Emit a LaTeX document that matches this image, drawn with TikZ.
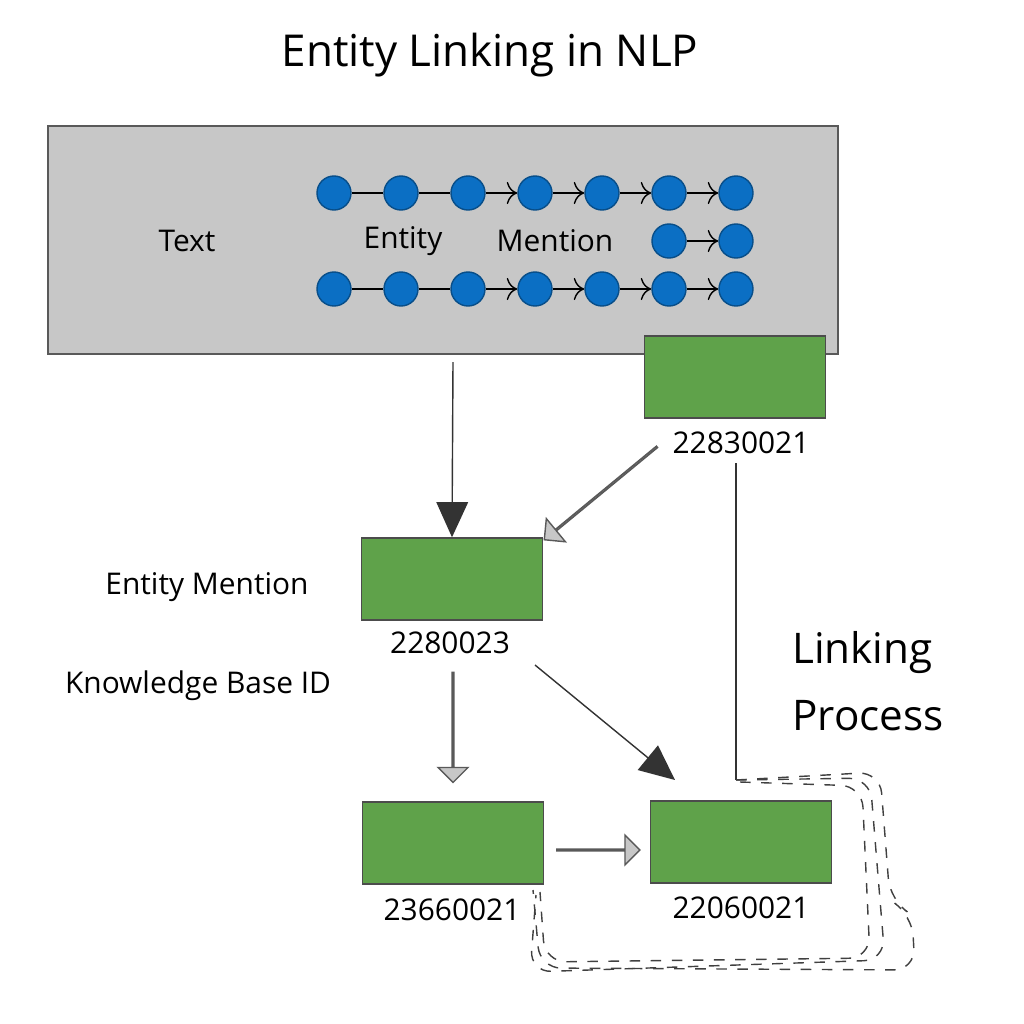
\documentclass[tikz,border=0pt]{standalone}
\usepackage{fontspec}
\setmainfont{Open Sans}
\usetikzlibrary{shapes.arrows,arrows.meta}
\definecolor{dotblue}{HTML}{0B6FC4}
\definecolor{boxgreen}{HTML}{5FA24A}
\tikzset{
  dot/.style={circle,draw=dotblue!70!black,fill=dotblue,minimum size=0.34cm,inner sep=0},
  kb/.style={draw=black!70,fill=boxgreen,minimum width=1.81cm,minimum height=0.82cm},
  fat/.style={single arrow,draw=black!65,fill=black!22,inner sep=0,minimum width=0.3cm,single arrow head extend=0.11cm},
  lbl/.style={font=\fontsize{8.5}{10}\selectfont},
}
\begin{document}
\begin{tikzpicture}[x=0.01cm,y=-0.01cm]
    \useasboundingbox (0,0) rectangle (1024,1024);
    \node[font=\fontsize{12.5}{15}\selectfont] (title) at (490,55) {Entity Linking in NLP};
    \draw[black!65,fill=black!22] (48,126) rectangle (838,354);
    % token chains
    \foreach \i/\x in {1/334,2/401,3/468,4/535,5/602,6/669,7/736} {
      \node[dot] (a\i) at (\x,193) {};
      \node[dot] (b\i) at (\x,289) {};
    }
    \node[dot] (c1) at (669,241) {};
    \node[dot] (c2) at (736,241) {};
    \foreach \r in {a,b} {
      \draw (\r1)--(\r2);
      \draw (\r2)--(\r3);
      \foreach \i/\j in {3/4,4/5,5/6,6/7} \draw[-{To[length=3pt]}] (\r\i)--(\r\j);
    }
    \draw[-{To[length=3pt]}] (c1)--(c2);
    \node[lbl] (text) at (187,241) {Text};
    \node[lbl] (ent) at (403,241) {Entity};
    \node[lbl] (men) at (555,241) {Mention};
    % knowledge base boxes
    \node[kb] (k1) at (735,377) {};
    \node[lbl] (n1) at (741,443) {22830021};
    \node[kb] (k2) at (452,579) {};
    \node[lbl] (n2) at (450,643) {2280023};
    \node[kb] (k3) at (453,843) {};
    \node[lbl] (n3) at (452,910) {23660021};
    \node[kb] (k4) at (741,842) {};
    \node[lbl] (n4) at (741,908) {22060021};
    \node[lbl] (em) at (207,587) {Entity Mention};
    \node[lbl] (kid) at (198,686) {Knowledge Base ID};
    \node[font=\fontsize{12}{15}\selectfont,align=left] (lp) at (868,681) {Linking\\[4pt]Process};
    % connectors
    \coordinate (s1) at (453,362);
    \draw[black!80,-{Triangle[length=10pt,width=9pt]}] (s1) -- (k2.north);
    \coordinate (s2) at (535,665);
    \coordinate (e2) at (675,780);
    \draw[black!80,-{Triangle[length=10pt,width=9pt]}] (s2) -- (e2);
    \coordinate (t1) at (736,463);
    \coordinate (t2) at (736,780);
    \draw[black!80] (t1) -- (t2);
    \node[fat,rotate=219.5,minimum height=1.46cm] (f1) at (601,493) {};
    \node[fat,rotate=-90,minimum height=1.1cm] (f2) at (453,727) {};
    \node[fat,minimum height=0.83cm] (f3) at (598,850) {};
    % feedback loops
    \begin{scope}[dashed,black!75,rounded corners=6pt]
      \draw (t2) -- (880,772) -- (890,900) -- (912,915) -- (915,970) -- (540,968) -- (533,890);
      \draw (t2) -- (870,778) -- (880,900) -- (885,960) -- (530,972) -- (536,895);
      \draw (740,782) -- (862,786) -- (870,958) -- (545,962) -- (540,892);
    \end{scope}
\end{tikzpicture}
\end{document}
